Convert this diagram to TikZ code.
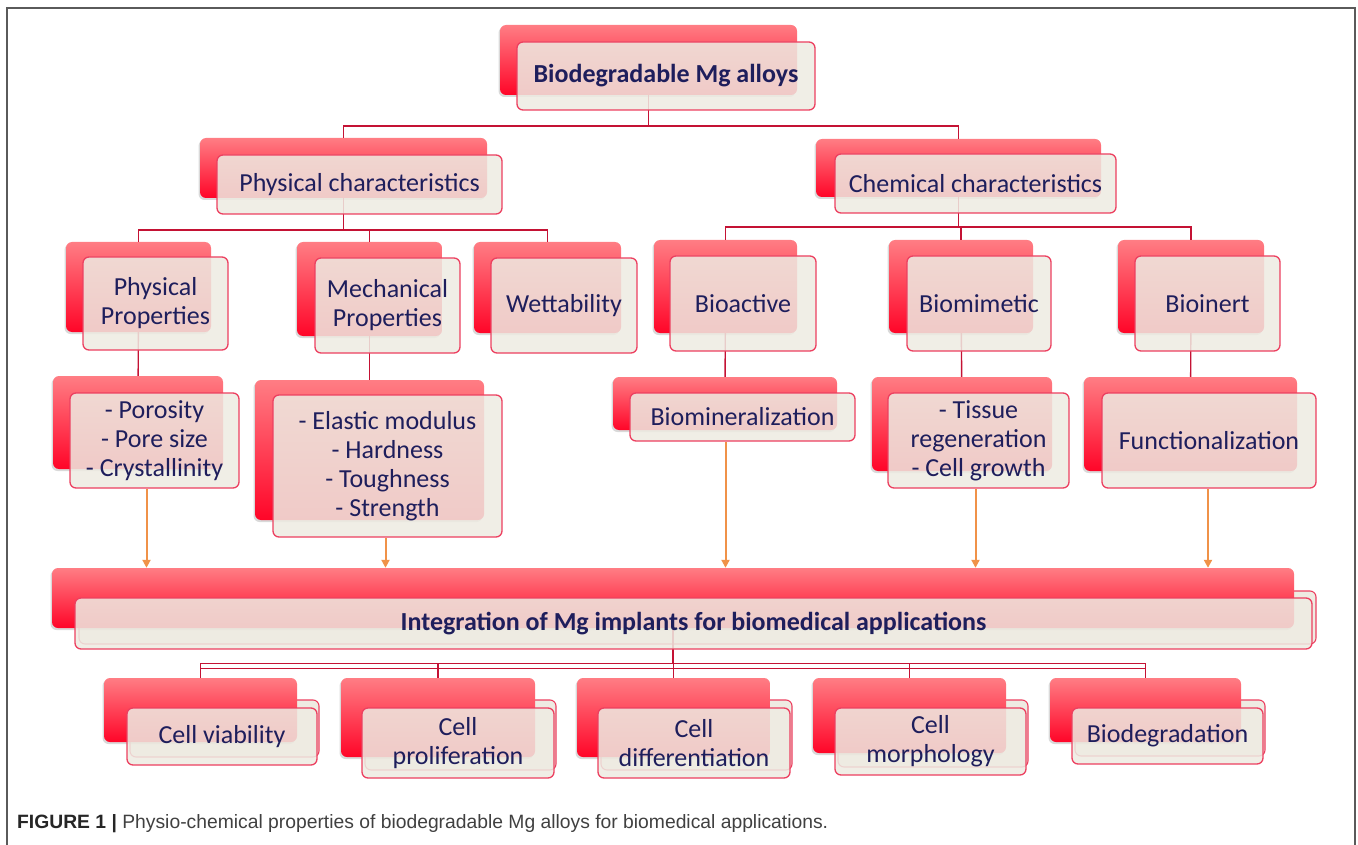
\documentclass[tikz,border=0pt]{standalone}
\usepackage{fontspec}
\setmainfont{Carlito}
\newfontfamily\captionfont{Liberation Sans}
\usetikzlibrary{fit,shadows,arrows.meta}
\definecolor{backtop}{RGB}{255,125,132}
\definecolor{backbottom}{RGB}{255,5,40}
\definecolor{frontfill}{RGB}{238,235,226}
\definecolor{frontline}{RGB}{236,64,96}
\definecolor{linkred}{RGB}{196,18,52}
\definecolor{floworange}{RGB}{240,146,72}
\definecolor{navytext}{RGB}{30,30,92}
\definecolor{framegray}{RGB}{90,90,90}
\definecolor{captiongray}{RGB}{64,64,64}

\begin{document}
\begin{tikzpicture}%
	[x={(1pt,0pt)},
	y={(0pt,-1pt)},
	backbox/.style={rectangle,rounded corners=6pt,inner sep=0pt,top color=backtop,bottom color=backbottom,
		drop shadow={shadow xshift=-1.5pt,shadow yshift=-2pt,opacity=0.3}},
	frontbox/.style={rectangle,rounded corners=6pt,inner sep=0pt,draw=frontline,line width=1.3pt,
		fill=frontfill,fill opacity=0.86,text opacity=1,text=navytext,align=center,
		font=\fontsize{26}{29}\selectfont},
	headbox/.style={frontbox,font=\fontsize{26}{29}\selectfont\bfseries},
	stackbox/.style={rectangle,rounded corners=6pt,inner sep=0pt,draw=frontline,line width=1.1pt,fill=frontfill},
	size/.style 2 args={minimum width=#1pt,minimum height=#2pt},
	link/.style={color=linkred,line width=1.4pt},
	flow/.style={color=floworange,line width=2pt,-{Triangle[length=8pt,width=8pt]}},
	frame/.style={color=framegray,line width=1.6pt},
	caption/.style={inner sep=0pt,anchor=base west,text=captiongray,font=\captionfont\fontsize{19.3}{22}\selectfont}]
%
\useasboundingbox (0,0) rectangle (1358,845);
\draw[frame] (7,845) -- (7,8) -- (1355,8) -- (1355,845);
%%
%%
%% Drawing the stacked boxes in the back
%%
\node[stackbox, fit={(79,591) (1316,644)}] (integs) {};
\node[stackbox, fit={(130,700) (319,757)}] (viabs) {};
\node[stackbox, fit={(365,700) (556,770)}] (prolifs) {};
\node[stackbox, fit={(601,700) (792,770)}] (diffs) {};
\node[stackbox, fit={(838,700) (1028,767)}] (morphs) {};
\node[stackbox, fit={(1075,700) (1265,756)}] (biodegs) {};
%%
%%
%% Drawing the red boxes
%%
\node[backbox, fit={(500,25) (797,95)}] (mgb) {};
\node[backbox, fit={(200,138) (487,198)}] (physb) {};
\node[backbox, fit={(816,139) (1101,197)}] (chemb) {};
\node[backbox, fit={(66,242) (211,332)}] (physpropb) {};
\node[backbox, fit={(297,242) (442,336)}] (mechb) {};
\node[backbox, fit={(474,242) (621,333)}] (wettb) {};
\node[backbox, fit={(654,240) (797,333)}] (bioactb) {};
\node[backbox, fit={(889,240) (1033,333)}] (biomimb) {};
\node[backbox, fit={(1118,240) (1264,333)}] (bioinertb) {};
\node[backbox, fit={(53,376) (223,469)}] (porob) {};
\node[backbox, fit={(255,380) (484,520)}] (elastb) {};
\node[backbox, fit={(613,377) (837,430)}] (minerb) {};
\node[backbox, fit={(872,377) (1052,471)}] (tissueb) {};
\node[backbox, fit={(1084,377) (1297,471)}] (functb) {};
\node[backbox, fit={(52,568) (1294,628)}] (integb) {};
\node[backbox, fit={(104,678) (297,742)}] (viabb) {};
\node[backbox, fit={(341,678) (535,757)}] (prolifb) {};
\node[backbox, fit={(577,678) (770,757)}] (diffb) {};
\node[backbox, fit={(813,678) (1006,753)}] (morphb) {};
\node[backbox, fit={(1050,678) (1241,742)}] (biodegb) {};
%%
%%
%% Drawing the links
%%
\draw[link] (mgb.south) -- ++(0,31) coordinate (mgjoin);
\draw[link] (mgjoin) -| (physb.north);
\draw[link] (mgjoin) -| (chemb.north);
\draw[link] (physb.south) -- ++(0,32) coordinate (physjoin);
\foreach \n in {physpropb,mechb,wettb}
	\draw[link] (physjoin) -| (\n.north);
\draw[link] (chemb.south) -- ++(0,30) coordinate (chemjoin);
\foreach \n in {bioactb,biomimb,bioinertb}
	\draw[link] (chemjoin) -| (\n.north);
\draw[link] (physpropb) -- (porob);
\draw[link] (mechb) -- (elastb);
\draw[link] (bioactb) -- (minerb);
\draw[link] (biomimb) -- (tissueb);
\draw[link] (bioinertb) -- (functb);
\draw[link] (integb.south) -- ++(0,35) coordinate (integjoin);
\foreach \n in {viabb,prolifb,diffb,morphb,biodegb}
	\draw[link] (integjoin) -| (\n.north);
\coordinate (integjoin2) at ([yshift=-5pt]integjoin);
\draw[link] (integjoin2 -| viabb.north) -- (integjoin2 -| biodegb.north);
%%
%%
%% Drawing the boxes in the front
%%
\node[headbox, size={298}{68}] (mg) at (666,76) {Biodegradable Mg alloys};
\node[frontbox, size={285}{59}] (phys) at (359.5,184.5) {Physical characteristics};
\node[frontbox, size={281}{59}] (chem) at (975.5,183.5) {Chemical characteristics};
\node[frontbox, size={145}{93}] (physprop) at (155.5,303.5) {Physical\\Properties};
\node[frontbox, size={145}{95}] (mech) at (387.5,305.5) {Mechanical\\Properties};
\node[frontbox, size={146}{95}] (wett) at (564,305.5) {Wettability};
\node[frontbox, size={146}{95}] (bioact) at (743,303.5) {Bioactive};
\node[frontbox, size={144}{95}] (biomim) at (979,303.5) {Biomimetic};
\node[frontbox, size={145}{95}] (bioinert) at (1207.5,303.5) {Bioinert};
\node[frontbox, size={169}{95}] (poro) at (154.5,440.5) {- Porosity\\- Pore size\\- Crystallinity};
\node[frontbox, size={229}{142}] (elast) at (387.5,466) {- Elastic modulus\\- Hardness\\- Toughness\\- Strength};
\node[frontbox, size={225}{48}] (miner) at (742.5,417) {Biomineralization};
\node[frontbox, size={181}{95}] (tissue) at (978.5,440.5) {- Tissue\\regeneration\\- Cell growth};
\node[frontbox, size={214}{95}] (funct) at (1209,440.5) {Functionalization};
\node[headbox, size={1237}{51}] (integ) at (693.5,623.5) {Integration of Mg implants for biomedical applications};
\node[frontbox, size={190}{57}] (viab) at (222,736.5) {Cell viability};
\node[frontbox, size={192}{70}] (prolif) at (458,743) {Cell\\proliferation};
\node[frontbox, size={192}{70}] (diff) at (694,743) {Cell\\differentiation};
\node[frontbox, size={191}{67}] (morph) at (930.5,741.5) {Cell\\morphology};
\node[frontbox, size={191}{56}] (biodeg) at (1167.5,736) {Biodegradation};
%%
%%
%% Drawing the arrows into the integration box
%%
\coordinate (porotip) at ([xshift=-8pt]poro.south);
\coordinate (elasttip) at ([xshift=-2pt]elast.south);
\coordinate (minertip) at ([xshift=-17pt]miner.south);
\coordinate (tissuetip) at ([xshift=-3pt]tissue.south);
\coordinate (functtip) at ([xshift=-1pt]funct.south);
\foreach \t in {porotip,elasttip,minertip,tissuetip,functtip}
	\draw[flow] (\t) -- (\t |- integb.north);
%%
%% Caption
%%
\node[caption] (cap) at (17,828) {\textcolor{black!85}{\textbf{FIGURE 1 |}} Physio-chemical properties of biodegradable Mg alloys for biomedical applications.};
\end{tikzpicture}
\end{document}
